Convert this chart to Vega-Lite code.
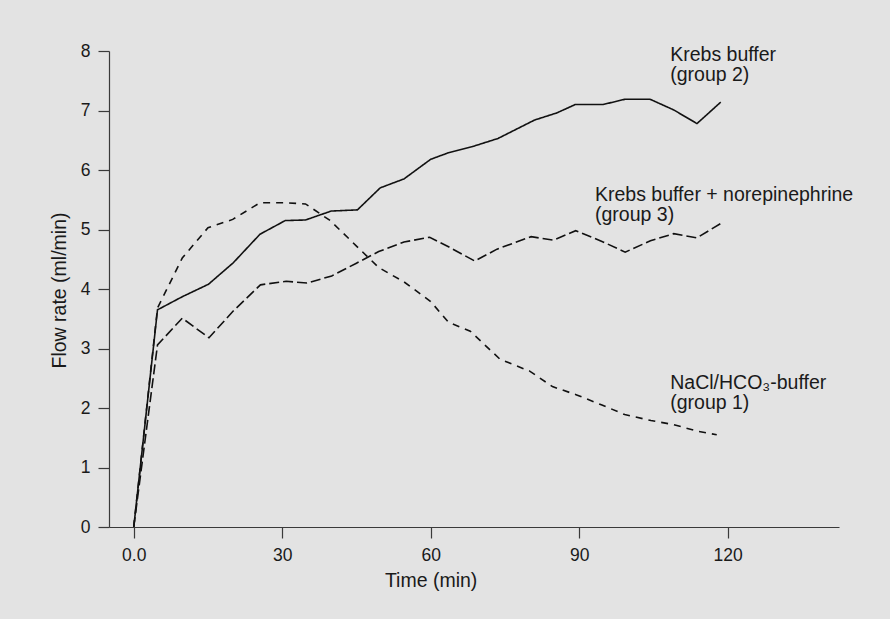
{
  "$schema": "https://vega.github.io/schema/vega-lite/v6.json",
  "width": 730,
  "height": 476,
  "autosize": {"type": "none"},
  "padding": {"left": 109, "top": 51, "right": 51, "bottom": 92},
  "background": "#e3e3e3",
  "config": {
    "view": {"stroke": null},
    "font": "Liberation Sans",
    "axis": {
      "grid": false,
      "domainColor": "#3a3a3a",
      "domainWidth": 1.2,
      "tickColor": "#3a3a3a",
      "tickWidth": 1.2,
      "tickSize": 11,
      "labelFont": "Liberation Sans",
      "labelFontSize": 17.5,
      "labelColor": "#1a1a1a",
      "labelPadding": 8,
      "titleFont": "Liberation Sans",
      "titleFontSize": 19.5,
      "titleFontWeight": "normal",
      "titleColor": "#1a1a1a"
    }
  },
  "data": {
    "values": [
      {"series": "group 2", "time": 0, "flow": 0},
      {"series": "group 2", "time": 4.8, "flow": 3.65},
      {"series": "group 2", "time": 9.8, "flow": 3.87},
      {"series": "group 2", "time": 15.1, "flow": 4.08},
      {"series": "group 2", "time": 20.1, "flow": 4.44},
      {"series": "group 2", "time": 25.5, "flow": 4.92},
      {"series": "group 2", "time": 30.6, "flow": 5.15},
      {"series": "group 2", "time": 34.7, "flow": 5.16},
      {"series": "group 2", "time": 39.9, "flow": 5.31},
      {"series": "group 2", "time": 45.2, "flow": 5.33},
      {"series": "group 2", "time": 49.8, "flow": 5.7},
      {"series": "group 2", "time": 54.6, "flow": 5.85},
      {"series": "group 2", "time": 60, "flow": 6.18},
      {"series": "group 2", "time": 63.6, "flow": 6.29},
      {"series": "group 2", "time": 68.3, "flow": 6.39},
      {"series": "group 2", "time": 73.6, "flow": 6.53},
      {"series": "group 2", "time": 81, "flow": 6.84},
      {"series": "group 2", "time": 85.5, "flow": 6.96},
      {"series": "group 2", "time": 89.2, "flow": 7.1},
      {"series": "group 2", "time": 94.8, "flow": 7.1},
      {"series": "group 2", "time": 99.3, "flow": 7.19},
      {"series": "group 2", "time": 104.3, "flow": 7.19},
      {"series": "group 2", "time": 109.1, "flow": 7.01},
      {"series": "group 2", "time": 113.8, "flow": 6.78},
      {"series": "group 2", "time": 118.6, "flow": 7.14},
      {"series": "group 1", "time": 0, "flow": 0},
      {"series": "group 1", "time": 4.8, "flow": 3.68},
      {"series": "group 1", "time": 9.8, "flow": 4.52},
      {"series": "group 1", "time": 15, "flow": 5.03},
      {"series": "group 1", "time": 20, "flow": 5.17},
      {"series": "group 1", "time": 25.5, "flow": 5.45},
      {"series": "group 1", "time": 30.5, "flow": 5.45},
      {"series": "group 1", "time": 34.7, "flow": 5.43},
      {"series": "group 1", "time": 39.7, "flow": 5.15},
      {"series": "group 1", "time": 44.9, "flow": 4.73},
      {"series": "group 1", "time": 49.5, "flow": 4.36},
      {"series": "group 1", "time": 54.6, "flow": 4.12},
      {"series": "group 1", "time": 60, "flow": 3.79},
      {"series": "group 1", "time": 63.6, "flow": 3.44},
      {"series": "group 1", "time": 68, "flow": 3.29},
      {"series": "group 1", "time": 74, "flow": 2.82},
      {"series": "group 1", "time": 80, "flow": 2.62},
      {"series": "group 1", "time": 84.6, "flow": 2.36},
      {"series": "group 1", "time": 89.5, "flow": 2.22},
      {"series": "group 1", "time": 94.6, "flow": 2.05},
      {"series": "group 1", "time": 99.2, "flow": 1.89},
      {"series": "group 1", "time": 104.5, "flow": 1.79},
      {"series": "group 1", "time": 109.1, "flow": 1.72},
      {"series": "group 1", "time": 113.9, "flow": 1.61},
      {"series": "group 1", "time": 117.8, "flow": 1.55},
      {"series": "group 3", "time": 0, "flow": 0},
      {"series": "group 3", "time": 4.8, "flow": 3.06},
      {"series": "group 3", "time": 9.8, "flow": 3.51},
      {"series": "group 3", "time": 15.2, "flow": 3.18},
      {"series": "group 3", "time": 20.1, "flow": 3.63},
      {"series": "group 3", "time": 25.6, "flow": 4.07},
      {"series": "group 3", "time": 30.8, "flow": 4.13},
      {"series": "group 3", "time": 35, "flow": 4.1},
      {"series": "group 3", "time": 40, "flow": 4.22},
      {"series": "group 3", "time": 44.9, "flow": 4.43},
      {"series": "group 3", "time": 49.5, "flow": 4.63},
      {"series": "group 3", "time": 54.6, "flow": 4.79},
      {"series": "group 3", "time": 59.8, "flow": 4.87},
      {"series": "group 3", "time": 63.6, "flow": 4.71},
      {"series": "group 3", "time": 68.9, "flow": 4.47},
      {"series": "group 3", "time": 73.4, "flow": 4.67},
      {"series": "group 3", "time": 80.3, "flow": 4.88},
      {"series": "group 3", "time": 84.8, "flow": 4.82},
      {"series": "group 3", "time": 89.3, "flow": 4.98},
      {"series": "group 3", "time": 94.6, "flow": 4.8},
      {"series": "group 3", "time": 99.3, "flow": 4.62},
      {"series": "group 3", "time": 104.4, "flow": 4.81},
      {"series": "group 3", "time": 109.1, "flow": 4.93},
      {"series": "group 3", "time": 113.8, "flow": 4.86},
      {"series": "group 3", "time": 118.6, "flow": 5.1}
    ]
  },
  "layer": [
    {
      "mark": {"type": "line", "color": "#111111", "strokeWidth": 1.6, "strokeCap": "butt", "strokeJoin": "miter"},
      "encoding": {
        "x": {
          "field": "time", "type": "quantitative",
          "scale": {"domain": [-5, 142.5], "nice": false, "zero": false},
          "axis": {
            "values": [0, 30, 60, 90, 120],
            "format": "d",
            "labelExpr": "datum.value == 0 ? '0.0' : datum.label",
            "title": "Time (min)",
            "titleX": 321.6,
            "titleY": 59,
            "titleAlign": "center",
            "titleBaseline": "alphabetic",
            "titleAnchor": null
          }
        },
        "y": {
          "field": "flow", "type": "quantitative",
          "scale": {"domain": [0, 8], "nice": false},
          "axis": {
            "values": [0, 1, 2, 3, 4, 5, 6, 7, 8],
            "format": "d",
            "title": "Flow rate (ml/min)",
            "titleX": -44,
            "titleY": 239,
            "titleAlign": "center",
            "titleBaseline": "alphabetic",
            "titleAnchor": null
          }
        },
        "detail": {"field": "series"},
        "strokeDash": {
          "field": "series", "type": "nominal",
          "scale": {"domain": ["group 2", "group 1", "group 3"], "range": [[1, 0], [7, 6], [10, 4]]},
          "legend": null
        },
        "order": {"field": "time", "type": "quantitative"}
      }
    },
    {
      "data": {"values": [{}]},
      "mark": {"type": "text", "align": "left", "baseline": "alphabetic", "fontSize": 19.5, "lineHeight": 20, "color": "#1a1a1a", "text": ["Krebs buffer", "(group 2)"]},
      "encoding": {"x": {"datum": 108.4, "type": "quantitative"}, "y": {"datum": 7.83, "type": "quantitative"}}
    },
    {
      "data": {"values": [{}]},
      "mark": {"type": "text", "align": "left", "baseline": "alphabetic", "fontSize": 19.5, "lineHeight": 20, "color": "#1a1a1a", "text": ["Krebs buffer + norepinephrine", "(group 3)"]},
      "encoding": {"x": {"datum": 93.2, "type": "quantitative"}, "y": {"datum": 5.48, "type": "quantitative"}}
    },
    {
      "data": {"values": [{}]},
      "mark": {"type": "text", "align": "left", "baseline": "alphabetic", "fontSize": 19.5, "lineHeight": 20, "color": "#1a1a1a", "text": ["NaCl/HCO₃-buffer", "(group 1)"]},
      "encoding": {"x": {"datum": 108.4, "type": "quantitative"}, "y": {"datum": 2.32, "type": "quantitative"}}
    }
  ]
}
